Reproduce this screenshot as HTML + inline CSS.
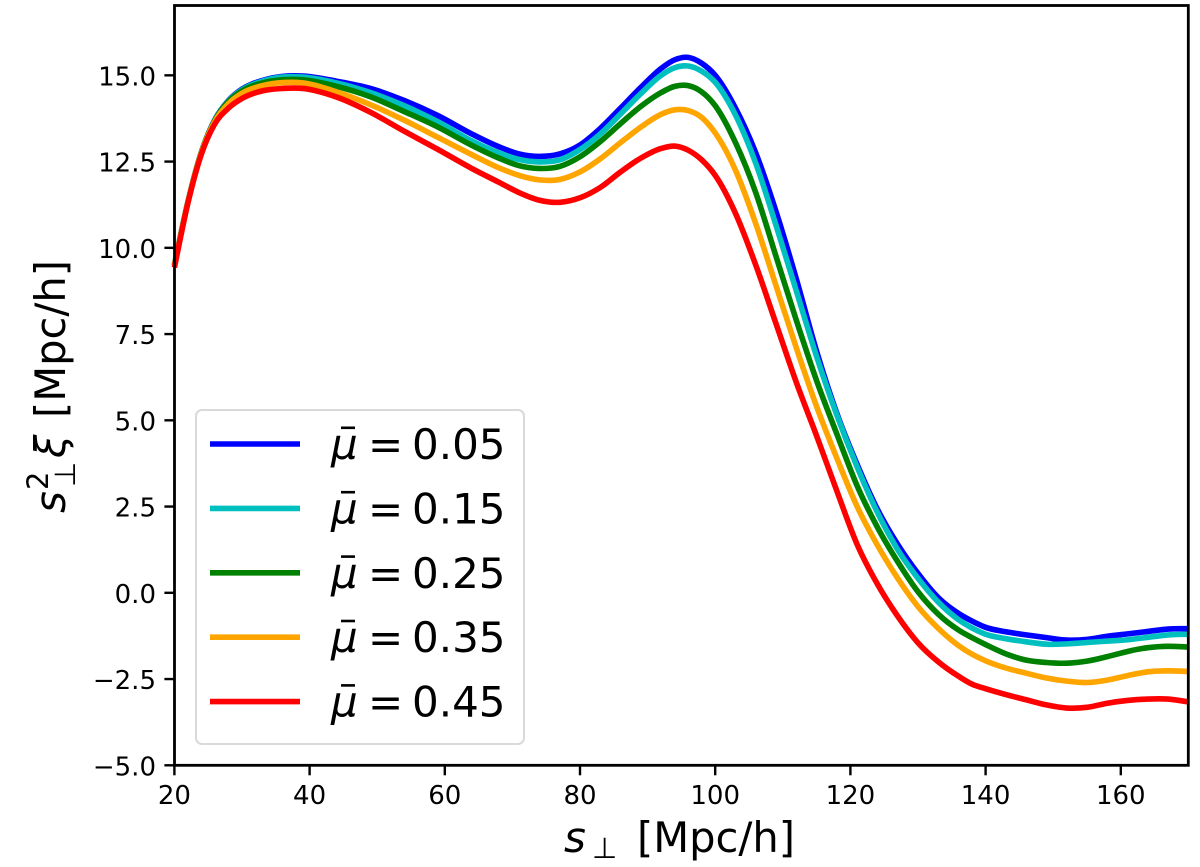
<!DOCTYPE html>
<html>
<head>
<meta charset="utf-8">
<title>Correlation function wedges</title>
<style>
html,body{margin:0;padding:0;background:#fff;}
svg{display:block;}
text{font-family:"DejaVu Sans","Liberation Sans",sans-serif;fill:#000;}
.i{font-style:italic;}
</style>
</head>
<body>
<svg id="chart" xmlns="http://www.w3.org/2000/svg" width="1200" height="867" viewBox="0 0 1200 867">
  <rect x="0" y="0" width="1200" height="867" fill="#fff"/>
  <g id="series"></g>
  <g id="ticks"></g>
  <rect x="174.5" y="5.5" width="1013.8" height="759.8" fill="none" stroke="#000" stroke-width="2.8"/>
  <g>
    <text class="i" x="564" y="852" font-size="42">s</text>
    <text x="592" y="858" font-size="29">⊥</text>
    <text x="637" y="852" font-size="41.6">[Mpc/h]</text>
  </g>
  <g>
    <text class="i" transform="translate(65,513) rotate(-90)" font-size="42">s</text>
    <text transform="translate(48,490) rotate(-90)" font-size="29">2</text>
    <text transform="translate(75,487) rotate(-90)" font-size="29">⊥</text>
    <text class="i" transform="translate(65,458) rotate(-90)" font-size="42">ξ</text>
    <text transform="translate(65,418) rotate(-90)" font-size="41.6">[Mpc/h]</text>
  </g>
  <g id="legend">
    <rect x="196" y="410" width="328" height="334" rx="6" ry="6" fill="#fff" fill-opacity="0.85" stroke="#d9d9d9" stroke-width="2"/>
  </g>
</svg>
<script>
const sPerp = [20,22,24,26,28,30,33,36,39,44,49,54,59,64,68,71,74,77,80,83,86,89,92,94,96,98,100,103,106,109,112,115,118,121,124,127,130,133,136,138,140,143,146,149,152,155,158,161,164,167,170];
const mu05 = [9.5,11.33,12.78,13.72,14.27,14.6,14.85,14.97,14.98,14.83,14.62,14.27,13.83,13.3,12.93,12.72,12.65,12.72,12.98,13.46,14.05,14.65,15.2,15.45,15.52,15.35,15.0,14.05,12.75,11.05,9.1,7.0,5.2,3.72,2.42,1.4,0.56,-0.14,-0.6,-0.82,-1.0,-1.13,-1.22,-1.3,-1.37,-1.35,-1.26,-1.19,-1.12,-1.05,-1.04];
const mu15 = [9.5,11.33,12.77,13.71,14.26,14.58,14.83,14.95,14.95,14.78,14.5,14.12,13.65,13.1,12.75,12.56,12.49,12.55,12.85,13.3,13.88,14.47,15.0,15.22,15.27,15.12,14.8,13.85,12.45,10.65,8.75,6.85,5.15,3.65,2.33,1.25,0.42,-0.27,-0.78,-1.02,-1.2,-1.33,-1.42,-1.49,-1.48,-1.44,-1.4,-1.36,-1.29,-1.22,-1.2];
const mu25 = [9.5,11.33,12.78,13.7,14.24,14.55,14.78,14.87,14.87,14.68,14.38,13.95,13.5,12.97,12.6,12.38,12.3,12.36,12.64,13.08,13.6,14.1,14.5,14.68,14.7,14.52,14.12,13.05,11.6,9.75,7.9,6.15,4.6,3.1,1.9,0.9,0.03,-0.62,-1.08,-1.3,-1.5,-1.77,-1.95,-2.02,-2.04,-1.98,-1.85,-1.7,-1.59,-1.55,-1.57];
const mu35 = [9.48,11.32,12.76,13.67,14.18,14.48,14.7,14.79,14.78,14.52,14.15,13.7,13.2,12.7,12.32,12.1,11.97,11.98,12.2,12.58,13.05,13.5,13.87,14.0,13.98,13.78,13.33,12.25,10.7,8.9,7.1,5.4,3.9,2.5,1.38,0.42,-0.4,-1.03,-1.53,-1.78,-1.97,-2.18,-2.33,-2.47,-2.56,-2.6,-2.53,-2.4,-2.29,-2.26,-2.28];
const mu45 = [9.43,11.3,12.72,13.6,14.05,14.33,14.55,14.62,14.62,14.37,13.93,13.38,12.85,12.3,11.9,11.6,11.38,11.32,11.45,11.75,12.2,12.6,12.88,12.95,12.83,12.55,12.1,11.0,9.5,7.8,6.1,4.55,2.95,1.4,0.25,-0.68,-1.45,-2.0,-2.42,-2.65,-2.78,-2.95,-3.1,-3.25,-3.34,-3.32,-3.2,-3.12,-3.08,-3.08,-3.16];
const seriesLabels = ["0.05","0.15","0.25","0.35","0.45"];
const seriesColors = ["#0000ff","#00bfbf","#008000","#ffa500","#ff0000"];
const xTicks = [20,40,60,80,100,120,140,160];
const yTicks = [-5,-2.5,0,2.5,5,7.5,10,12.5,15];

const NS = "http://www.w3.org/2000/svg";
const X_MIN = 20, X_MAX = 170, Y_MIN = -5, Y_MAX = 17.03;
const LEFT = 174.4, RIGHT = 1188.4, BOTTOM = 765.3, TOP = 5.3;
function xScale(v){ return LEFT + (v - X_MIN) / (X_MAX - X_MIN) * (RIGHT - LEFT); }
function yScale(v){ return BOTTOM - (v - Y_MIN) / (Y_MAX - Y_MIN) * (BOTTOM - TOP); }

function smoothPath(xs, ys){
  const n = xs.length;
  const px = xs.map(xScale), py = ys.map(yScale);
  const m = [];
  for (let i = 0; i < n; i++){
    if (i === 0){ m.push((py[1] - py[0]) / (px[1] - px[0])); continue; }
    if (i === n - 1){ m.push((py[i] - py[i-1]) / (px[i] - px[i-1])); continue; }
    const h0 = px[i] - px[i-1], h1 = px[i+1] - px[i];
    const d0 = (py[i] - py[i-1]) / h0, d1 = (py[i+1] - py[i]) / h1;
    m.push((h0 * d1 + h1 * d0) / (h0 + h1));
  }
  let d = "M" + px[0].toFixed(2) + " " + py[0].toFixed(2);
  for (let i = 0; i < n - 1; i++){
    const h = px[i+1] - px[i];
    d += "C" + (px[i] + h/3).toFixed(2) + " " + (py[i] + m[i]*h/3).toFixed(2) + " " +
         (px[i+1] - h/3).toFixed(2) + " " + (py[i+1] - m[i+1]*h/3).toFixed(2) + " " +
         px[i+1].toFixed(2) + " " + py[i+1].toFixed(2);
  }
  return d;
}

const seriesGroup = document.getElementById("series");
const allSeries = [mu05, mu15, mu25, mu35, mu45];
allSeries.forEach((vals, i) => {
  const path = document.createElementNS(NS, "path");
  path.setAttribute("d", smoothPath(sPerp, vals));
  path.setAttribute("fill", "none");
  path.setAttribute("stroke", seriesColors[i]);
  path.setAttribute("stroke-width", "5.6");
  path.setAttribute("stroke-linejoin", "round");
  
  
  seriesGroup.appendChild(path);
});

const tickGroup = document.getElementById("ticks");
function addLine(x1, y1, x2, y2, name){
  const l = document.createElementNS(NS, "line");
  l.setAttribute("x1", x1); l.setAttribute("y1", y1);
  l.setAttribute("x2", x2); l.setAttribute("y2", y2);
  l.setAttribute("stroke", "#000");
  l.setAttribute("stroke-width", "2.4");
  
  
  tickGroup.appendChild(l);
}
function addLabel(x, y, str, anchor, name){
  const t = document.createElementNS(NS, "text");
  t.setAttribute("x", x); t.setAttribute("y", y);
  t.setAttribute("font-size", "26");
  t.setAttribute("text-anchor", anchor);
  
  
  t.textContent = str;
  tickGroup.appendChild(t);
}
xTicks.forEach(v => {
  const x = xScale(v);
  addLine(x, BOTTOM, x, BOTTOM + 10, 'x-tick');
  addLabel(x, 804, String(v), "middle", 'x-tick-label');
});
yTicks.forEach(v => {
  const y = yScale(v);
  addLine(LEFT, y, LEFT - 10, y, 'y-tick');
  addLabel(156, y + 10, (v < 0 ? "\u2212" : "") + Math.abs(v).toFixed(1), "end", 'y-tick-label');
});

const legend = document.getElementById("legend");
seriesLabels.forEach((lab, i) => {
  const y = 444 + i * 64.4;
  const l = document.createElementNS(NS, "line");
  l.setAttribute("x1", 210); l.setAttribute("x2", 300);
  l.setAttribute("y1", y); l.setAttribute("y2", y);
  l.setAttribute("stroke", seriesColors[i]);
  l.setAttribute("stroke-width", "5.6");
  
  
  legend.appendChild(l);

  const mu = document.createElementNS(NS, "text");
  mu.setAttribute("x", 331); mu.setAttribute("y", y + 15);
  mu.setAttribute("font-size", "42");
  mu.setAttribute("class", "i");
  
  
  mu.textContent = "\u03bc";
  legend.appendChild(mu);

  const bar = document.createElementNS(NS, "rect");
  bar.setAttribute("x", 341); bar.setAttribute("y", y - 17.5);
  bar.setAttribute("width", 14); bar.setAttribute("height", 2.6);
  bar.setAttribute("fill", "#000");
  
  
  legend.appendChild(bar);

  const eq = document.createElementNS(NS, "text");
  eq.setAttribute("x", 368); eq.setAttribute("y", y + 15);
  eq.setAttribute("font-size", "42");
  
  
  eq.textContent = "=";
  legend.appendChild(eq);

  const val = document.createElementNS(NS, "text");
  val.setAttribute("x", 412); val.setAttribute("y", y + 15);
  val.setAttribute("font-size", "42");
  
  
  val.textContent = lab;
  legend.appendChild(val);
});
</script>
</body>
</html>
